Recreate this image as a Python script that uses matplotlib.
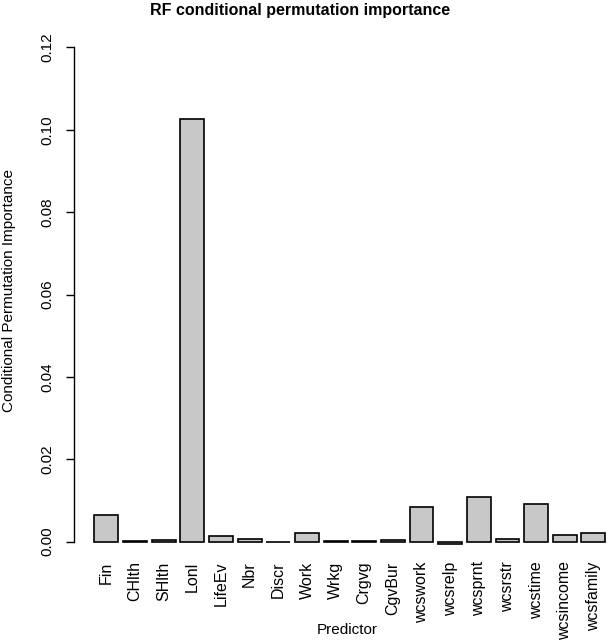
import matplotlib
matplotlib.use("Agg")
import matplotlib.pyplot as plt

# Predictors and their conditional permutation importance
predictors = ["Fin", "CHlth", "SHlth", "Lonl", "LifeEv", "Nbr", "Discr", "Work",
              "Wrkg", "Crgvg", "CgvBur", "wcswork", "wcsrelp", "wcsprnt",
              "wcsrstr", "wcstime", "wcsincome", "wcsfamily"]
importance = [0.0064, 0.0001, 0.0004, 0.1026, 0.0014, 0.0005, -0.0002, 0.0021,
              0.00005, 0.00005, 0.0003, 0.0084, -0.0005, 0.0109,
              0.0007, 0.0090, 0.0017, 0.0020]
y_ticks = [0.00, 0.02, 0.04, 0.06, 0.08, 0.10, 0.12]

plt.rcParams['font.family'] = ['Liberation Sans', 'DejaVu Sans']

W, H = 609, 640
fig = plt.figure(figsize=(W / 100, H / 100), dpi=100)

# plot region, R style (right side runs past the picture)
left, right, top, bottom = 74.0, 625.8, 27.7, 561.3
ax = fig.add_axes([left / W, 1 - bottom / H, (right - left) / W, (bottom - top) / H])

x = [0.7 + 1.2 * i for i in range(len(predictors))]
ax.bar(x, importance, width=1.0, color="#c8c8c8", edgecolor="black", linewidth=1.2)

ax.set_xlim(-0.656, 22.456)
ax.set_ylim(-0.0048, 0.1248)

for s in ["top", "right", "bottom"]:
    ax.spines[s].set_visible(False)
ax.spines["left"].set_bounds(0, 0.12)
ax.spines["left"].set_linewidth(1.0)

ax.set_yticks(y_ticks)
ax.set_yticklabels(["%.2f" % t for t in y_ticks], rotation=90, va="center")
ax.tick_params(axis="y", length=6, width=1.0, pad=8, labelsize=11)

ax.set_xticks(x)
ax.set_xticklabels(predictors, rotation=90, va="top", ha="center")
ax.tick_params(axis="x", length=0, pad=0, labelsize=11.5)

fig.text(300 / W, 1 - 11 / H, "RF conditional permutation importance",
         ha="center", va="center", fontsize=11.5, fontweight="bold")
fig.text(9 / W, 1 - 290 / H, "Conditional Permutation Importance",
         ha="center", va="center", rotation=90, fontsize=11)
fig.text(347 / W, 1 - 630 / H, "Predictor", ha="center", va="center", fontsize=11)

fig.savefig("out.png", dpi=100)
